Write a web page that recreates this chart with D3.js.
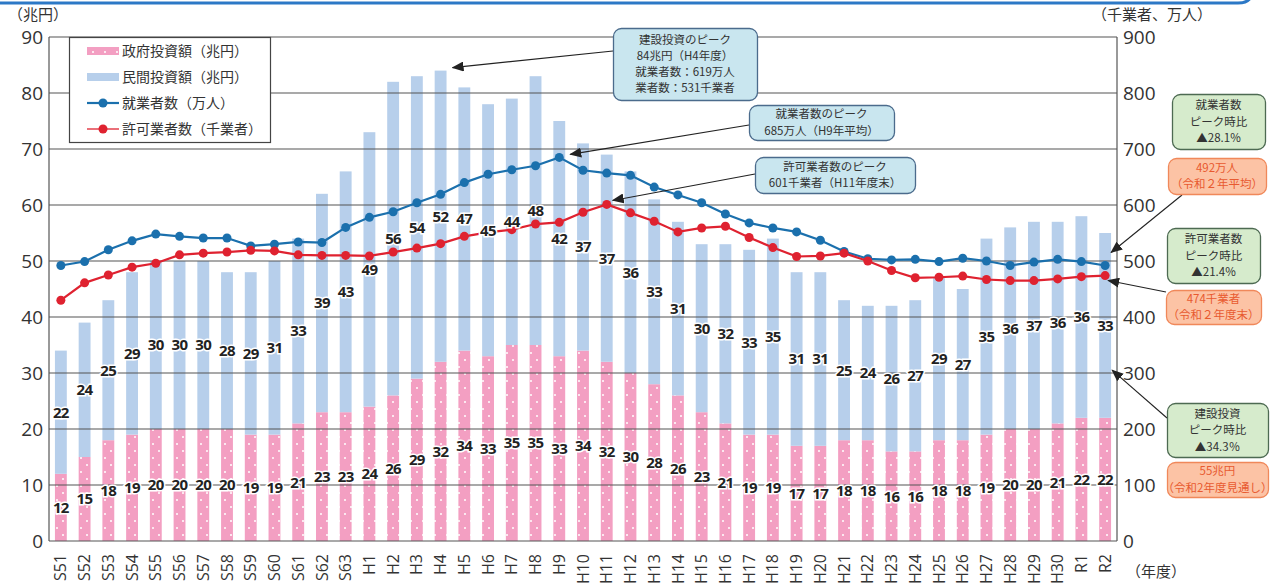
<!DOCTYPE html>
<html>
<head>
<meta charset="utf-8">
<script src="https://cdn.jsdelivr.net/npm/d3@7/dist/d3.min.js"></script>
<style>
body { margin: 0; background: #fff; }
svg { font-family: "Noto Sans CJK JP", "Noto Sans", sans-serif; }
</style>
</head>
<body>
<div id="chart"></div>
<script>
// years (年度)
const years = ["S51","S52","S53","S54","S55","S56","S57","S58","S59","S60","S61","S62","S63",
    "H1","H2","H3","H4","H5","H6","H7","H8","H9","H10",
    "H11","H12","H13","H14","H15","H16","H17","H18","H19","H20",
    "H21","H22","H23","H24","H25","H26","H27","H28","H29","H30","R1","R2"];
// 政府投資額 (兆円)
const govInvest = [12,15,18,19,20,20,20,20,19,19,21,23,23,
    24,26,29,32,34,33,35,35,33,34,
    32,30,28,26,23,21,19,19,17,17,
    18,18,16,16,18,18,19,20,20,21,22,22];
// 民間投資額 (兆円)
const privInvest = [22,24,25,29,30,30,30,28,29,31,33,39,43,
    49,56,54,52,47,45,44,48,42,37,
    37,36,33,31,30,32,33,35,31,31,
    25,24,26,27,29,27,35,36,37,36,36,33];
// 就業者数 (万人)
const workers = [492,499,520,536,548,544,541,541,527,530,534,533,560,
    578,588,604,619,640,655,663,670,685,662,
    657,653,632,618,604,584,568,559,552,537,
    517,504,502,503,499,505,500,492,498,503,499,492];
// 許可業者数 (千業者)
const licensed = [430,461,475,489,496,511,514,516,519,518,511,510,510,
    509,516,523,531,544,551,556,566,569,587,
    601,586,571,552,559,562,542,524,508,509,
    514,500,483,470,471,473,467,465,465,468,472,474];
const leftTicks = [0,10,20,30,40,50,60,70,80,90];
const rightTicks = [0,100,200,300,400,500,600,700,800,900];

const W = 1276, H = 586;
const plot = { left: 49, right: 1117, top: 37, bottom: 541 };

const svg = d3.select("#chart").append("svg")
    .attr("width", W).attr("height", H);

const defs = svg.append("defs");
// dotted pink fill
const pat = defs.append("pattern")
    .attr("id", "dots")
    .attr("patternUnits", "userSpaceOnUse")
    .attr("width", 12).attr("height", 14);
pat.append("rect").attr("width", 12).attr("height", 14).attr("fill", "#f39fc2");
pat.append("circle").attr("cx", 3).attr("cy", 3).attr("r", 1).attr("fill", "#fff");
pat.append("circle").attr("cx", 9).attr("cy", 10).attr("r", 1).attr("fill", "#fff");

defs.append("marker")
    .attr("id", "arrow")
    .attr("markerUnits", "userSpaceOnUse")
    .attr("markerWidth", 12).attr("markerHeight", 10)
    .attr("refX", 11).attr("refY", 5)
    .attr("orient", "auto")
    .append("path")
    .attr("d", "M0,0 L12,5 L0,10 Z")
    .attr("fill", "#222");

// blue frame edge at the top
svg.append("path")
    .attr("d", "M0,3 H1238 Q1250,3 1252,-6")
    .attr("fill", "none")
    .attr("stroke", "#2c78c6")
    .attr("stroke-width", 3);

// scales
const x = d3.scaleBand()
    .domain(years)
    .range([plot.left, plot.right])
    .paddingInner(0.5)
    .paddingOuter(0.25);

const y = d3.scaleLinear().domain([0, 90]).range([plot.bottom, plot.top]);
const y2 = d3.scaleLinear().domain([0, 900]).range([plot.bottom, plot.top]);

const data = years.map((yr, i) => ({ year: yr, gov: govInvest[i], priv: privInvest[i] }));
const stacked = d3.stack().keys(["gov", "priv"])(data);
const barFill = { gov: "url(#dots)", priv: "#b7cfeb" };

// bars
svg.append("g")
    .selectAll("g")
    .data(stacked)
    .enter()
    .append("g")
    .attr("fill", (s) => barFill[s.key])
    .selectAll("rect")
    .data((s) => s)
    .enter()
    .append("rect")
    .attr("x", (d) => x(d.data.year))
    .attr("y", (d) => y(d[1]))
    .attr("width", x.bandwidth())
    .attr("height", (d) => y(d[0]) - y(d[1]));

// grid lines (drawn over the bars)
svg.append("g")
    .selectAll("line")
    .data(leftTicks)
    .enter()
    .append("line")
    .attr("x1", plot.left).attr("x2", plot.right)
    .attr("y1", (d) => y(d)).attr("y2", (d) => y(d))
    .attr("stroke", "#555").attr("stroke-width", 1.1);

// frame sides
svg.append("line").attr("x1", plot.left).attr("x2", plot.left)
    .attr("y1", plot.top).attr("y2", plot.bottom).attr("stroke", "#555").attr("stroke-width", 1.2);
svg.append("line").attr("x1", plot.right).attr("x2", plot.right)
    .attr("y1", plot.top).attr("y2", plot.bottom).attr("stroke", "#555").attr("stroke-width", 1.2);

// left axis
const yAxis = svg.append("g")
    .attr("transform", `translate(${plot.left},0)`)
    .call(d3.axisLeft(y).tickValues(leftTicks).tickSize(0).tickPadding(6));
yAxis.select(".domain").remove();
yAxis.selectAll("text").attr("font-size", 19).attr("fill", "#333")
    .attr("font-family", "'Open Sans', sans-serif");

// right axis
const yAxis2 = svg.append("g")
    .attr("transform", `translate(${plot.right},0)`)
    .call(d3.axisRight(y2).tickValues(rightTicks).tickSize(0).tickPadding(6));
yAxis2.select(".domain").remove();
yAxis2.selectAll("text").attr("font-size", 19).attr("fill", "#333")
    .attr("font-family", "'Open Sans', sans-serif");

// x axis labels (rotated)
svg.append("g")
    .selectAll("text")
    .data(years)
    .enter()
    .append("text")
    .attr("transform", (d) => `translate(${x(d) + x.bandwidth() / 2},${plot.bottom + 13}) rotate(-90)`)
    .attr("text-anchor", "end")
    .attr("dy", "0.35em")
    .attr("font-size", 16)
    .attr("fill", "#333")
    .attr("font-family", "'Open Sans', sans-serif")
    .text((d) => d);

svg.append("text").attr("x", 8).attr("y", 20).attr("font-size", 15).attr("fill", "#333").text("（兆円）");
svg.append("text").attr("x", 1092).attr("y", 20).attr("font-size", 15).attr("fill", "#333").text("（千業者、万人）");
svg.append("text").attr("x", 1126).attr("y", 577).attr("font-size", 15).attr("fill", "#333").text("（年度）");

// lines
const cx = (d, i) => x(years[i]) + x.bandwidth() / 2;
const series = [
    { values: workers, color: "#1b70ad" },
    { values: licensed, color: "#df2230" },
];
series.forEach((s) => {
    svg.append("path")
        .datum(s.values)
        .attr("fill", "none")
        .attr("stroke", s.color)
        .attr("stroke-width", 2.2)
        .attr("d", d3.line().x(cx).y((d) => y2(d)));
    svg.append("g")
        .selectAll("circle")
        .data(s.values)
        .enter()
        .append("circle")
        .attr("cx", cx)
        .attr("cy", (d) => y2(d))
        .attr("r", 4.5)
        .attr("fill", s.color);
});

// value labels
const labelG = svg.append("g")
    .attr("font-size", 15)
    .attr("font-weight", "bold")
    .attr("text-anchor", "middle")
    .attr("fill", "#222")
    .attr("font-family", "'Open Sans', sans-serif");
stacked.forEach((s) => {
    labelG.selectAll(null)
        .data(s)
        .enter()
        .append("text")
        .attr("x", (d) => x(d.data.year) + x.bandwidth() / 2)
        .attr("y", (d) => y((d[0] + d[1]) / 2))
        .attr("dy", "0.36em")
        .attr("letter-spacing", -0.6)
        .attr("stroke", "#fff")
        .attr("stroke-width", 3)
        .attr("paint-order", "stroke")
        .text((d) => d3.format(".0f")(d[1] - d[0]));
});

// legend
const lg = svg.append("g");
lg.append("rect").attr("x", 69.5).attr("y", 37.5).attr("width", 201).attr("height", 105)
    .attr("fill", "#fff").attr("stroke", "#444").attr("stroke-width", 1.2);
const legendItems = [
    { label: "政府投資額（兆円）", type: "bar", fill: "url(#dots)" },
    { label: "民間投資額（兆円）", type: "bar", fill: "#b7cfeb" },
    { label: "就業者数（万人）", type: "line", fill: "#1b70ad" },
    { label: "許可業者数（千業者）", type: "line", fill: "#df2230" },
];
legendItems.forEach((it, i) => {
    const ly = 51 + i * 26;
    if (it.type === "bar") {
        lg.append("rect").attr("x", 87).attr("y", ly - 4).attr("width", 32).attr("height", 8).attr("fill", it.fill);
    } else {
        lg.append("line").attr("x1", 87).attr("x2", 119).attr("y1", ly).attr("y2", ly)
            .attr("stroke", it.fill).attr("stroke-width", i === 2 ? 2.2 : 1.3);
        lg.append("circle").attr("cx", 103).attr("cy", ly).attr("r", 4.5).attr("fill", it.fill);
    }
    lg.append("text").attr("x", 122).attr("y", ly).attr("dy", "0.35em")
        .attr("font-size", 14).attr("fill", "#333").text(it.label);
});

// annotation boxes
const iH4 = years.indexOf("H4"), iH9 = years.indexOf("H9"), iH11 = years.indexOf("H11"), iR2 = years.indexOf("R2");
const midX = (i) => x(years[i]) + x.bandwidth() / 2;
const notes = [
    { x: 613, y: 28, w: 144, h: 72, fill: "#c9e6ef", stroke: "#4b6b8c", color: "#333",
      lines: ["建設投資のピーク", "84兆円（H4年度）", "就業者数：619万人", "業者数：531千業者"],
      from: [613, 51], to: [midX(iH4) + 12, y(govInvest[iH4] + privInvest[iH4]) - 3] },
    { x: 749, y: 105, w: 145, h: 35, fill: "#c9e6ef", stroke: "#4b6b8c", color: "#333",
      lines: ["就業者数のピーク", "685万人（H9年平均）"],
      from: [749, 125], to: [midX(iH9) + 11, y2(workers[iH9]) - 3] },
    { x: 755, y: 157, w: 160, h: 36, fill: "#c9e6ef", stroke: "#4b6b8c", color: "#333",
      lines: ["許可業者数のピーク", "601千業者（H11年度末）"],
      from: [755, 174], to: [midX(iH11) + 6, y2(licensed[iH11]) - 4] },
    { x: 1172, y: 94, w: 93, h: 55, fill: "#d6ebcc", stroke: "#4d6a52", color: "#333",
      lines: ["就業者数", "ピーク時比", "▲28.1%"] },
    { x: 1168, y: 158, w: 98, h: 36, fill: "#fcc3a5", stroke: "#f0885a", color: "#e85a30",
      lines: ["492万人", "（令和２年平均）"],
      from: [1182, 195], to: [midX(iR2) + 6, y2(workers[iR2]) - 13] },
    { x: 1167, y: 228, w: 93, h: 55, fill: "#d6ebcc", stroke: "#4d6a52", color: "#333",
      lines: ["許可業者数", "ピーク時比", "▲21.4%"] },
    { x: 1166, y: 290, w: 95, h: 34, fill: "#fcc3a5", stroke: "#f0885a", color: "#e85a30",
      lines: ["474千業者", "（令和２年度末）"],
      from: [1166, 292], to: [midX(iR2) + 3, y2(licensed[iR2]) + 5] },
    { x: 1167, y: 403, w: 101, h: 54, fill: "#d6ebcc", stroke: "#4d6a52", color: "#333",
      lines: ["建設投資", "ピーク時比", "▲34.3％"],
      from: [1167, 418], to: [midX(iR2) + 7, y(30.5)] },
    { x: 1167, y: 462, w: 101, h: 35, fill: "#fcc3a5", stroke: "#f0885a", color: "#e85a30",
      lines: ["55兆円", "（令和2年度見通し）"] },
];
const ng = svg.append("g");
notes.forEach((n) => {
    if (n.from) {
        ng.append("line")
            .attr("x1", n.from[0]).attr("y1", n.from[1])
            .attr("x2", n.to[0]).attr("y2", n.to[1])
            .attr("stroke", "#222").attr("stroke-width", 1.1)
            .attr("marker-end", "url(#arrow)");
    }
    ng.append("rect")
        .attr("x", n.x + 0.5).attr("y", n.y + 0.5)
        .attr("width", n.w).attr("height", n.h)
        .attr("rx", 8)
        .attr("fill", n.fill).attr("stroke", n.stroke).attr("stroke-width", 1.3);
    const lh = n.lines.length > 3 ? 16 : 16.5;
    const y0 = n.y + n.h / 2 - (n.lines.length - 1) * lh / 2;
    n.lines.forEach((t, j) => {
        ng.append("text")
            .attr("x", n.x + n.w / 2).attr("y", y0 + j * lh)
            .attr("dy", "0.35em")
            .attr("text-anchor", "middle")
            .attr("font-size", 11.5)
            .attr("fill", n.color)
            .text(t);
    });
});
</script>
</body>
</html>
